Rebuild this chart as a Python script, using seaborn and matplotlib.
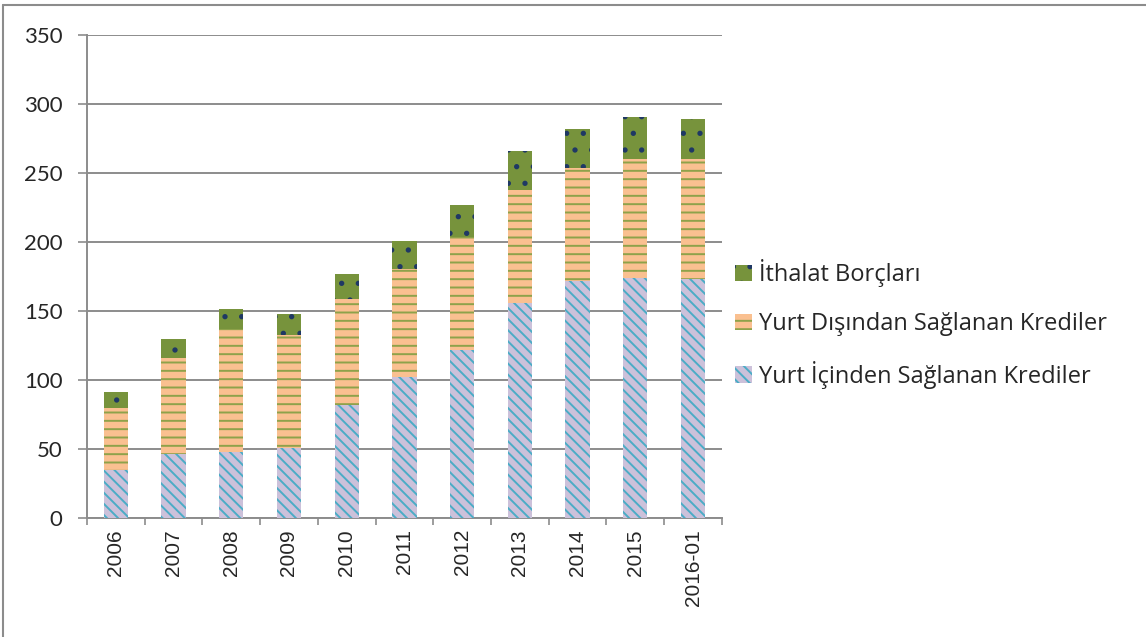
import numpy as np
import pandas as pd
import matplotlib
matplotlib.use("Agg")
import matplotlib.pyplot as plt
import seaborn as sns

# values (billion USD, roughly)
years = ["2006", "2007", "2008", "2009", "2010", "2011", "2012", "2013", "2014", "2015", "2016-01"]
yurt_ici = [34.5, 46.5, 48.0, 50.5, 82.0, 102.0, 122.0, 155.5, 172.0, 174.0, 173.0]
yurt_disi = [45.2, 69.1, 89.0, 81.8, 76.6, 78.5, 82.0, 82.2, 82.0, 86.5, 87.0]
ithalat = [11.8, 14.0, 14.5, 15.3, 18.2, 20.5, 22.5, 28.3, 28.0, 30.0, 29.5]

labels = ["Yurt İçinden Sağlanan Krediler", "Yurt Dışından Sağlanan Krediler", "İthalat Borçları"]
face_colors = ["#ccc1da", "#fac090", "#77933c"]
hatch_colors = ["#4bacc6", "#8ea24a", "#1f3864"]
hatches = ["\\\\\\", "--", "."]

sns.set_style("white")
plt.rcParams["font.family"] = ["Lato", "DejaVu Sans"]
plt.rcParams["hatch.linewidth"] = 1.4

df = pd.DataFrame({"yil": years, "ici": yurt_ici, "disi": yurt_disi, "ithalat": ithalat})
# stacked by overlapping cumulative totals, tallest drawn first
df["top1"] = df["ici"]
df["top2"] = df["ici"] + df["disi"]
df["top3"] = df["top2"] + df["ithalat"]

fig = plt.figure(figsize=(11.46, 6.37), dpi=100)
ax = fig.add_axes([0.0759, 0.1868, 0.554, 0.7582])

handles = {}
for i, col in [(2, "top3"), (1, "top2"), (0, "top1")]:
    sns.barplot(data=df, x="yil", y=col, color=face_colors[i], saturation=1,
                width=0.42, ax=ax, zorder=3)
    cont = ax.containers[-1]
    for p in cont:
        p.set_hatch(hatches[i])
        p.set_edgecolor(hatch_colors[i])
        p.set_linewidth(0)
    handles[i] = cont

ax.set_ylim(0, 350)
ax.set_xlim(-0.5, len(years) - 0.5)
ax.set_yticks(np.arange(0, 351, 50))
ax.set_xlabel("")
ax.set_ylabel("")

ax.yaxis.grid(True, color="#8c8c8c", linewidth=1.4, zorder=0)
ax.set_axisbelow(True)
for s in ["top", "right"]:
    ax.spines[s].set_visible(False)
for s in ["left", "bottom"]:
    ax.spines[s].set_color("#8c8c8c")
    ax.spines[s].set_linewidth(1.4)

ax.tick_params(axis="y", length=6.5, width=1.2, color="#8c8c8c", pad=11, labelsize=16, left=True)
ax.set_xticks(np.arange(-0.5, len(years), 1), minor=True)
ax.tick_params(axis="x", which="minor", length=5, width=1.2, color="#8c8c8c", bottom=True)
ax.tick_params(axis="x", which="major", length=0, pad=8)
ax.set_xticklabels(years, rotation=90, fontsize=15, family="Liberation Sans")

fig.legend([handles[2], handles[1], handles[0]], [labels[2], labels[1], labels[0]],
           loc="center left", bbox_to_anchor=(0.623, 0.491), frameon=False,
           prop={"family": "Open Sans", "size": 17}, handlelength=0.7, handleheight=0.7,
           handletextpad=0.3, labelspacing=1.05)

# outer frame of the chart object
fig.add_artist(plt.Line2D([0.003, 0.003], [0, 0.992], color="#8c8c8c", linewidth=1.5))
fig.add_artist(plt.Line2D([0.003, 1], [0.992, 0.992], color="#8c8c8c", linewidth=1.5))

fig.savefig("out.png", dpi=100)
